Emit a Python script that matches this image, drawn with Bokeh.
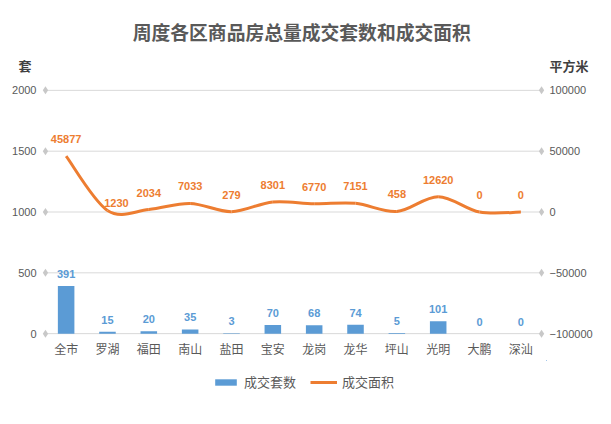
from bokeh.plotting import figure
from bokeh.layouts import column
from bokeh.models import (ColumnDataSource, Range1d, LinearAxis, FixedTicker, LabelSet,
                          Legend, LegendItem, BasicTickFormatter)
from bokeh.core.properties import value
from bokeh.embed import file_html
from bokeh.resources import INLINE

# ---- data ----
categories = ["全市", "罗湖", "福田", "南山", "盐田", "宝安", "龙岗", "龙华", "坪山", "光明", "大鹏", "深汕"]
units_sold = [391, 15, 20, 35, 3, 70, 68, 74, 5, 101, 0, 0]
area_sold = [45877, 1230, 2034, 7033, 279, 8301, 6770, 7151, 458, 12620, 0, 0]
left_ticks = [0, 500, 1000, 1500, 2000]
right_ticks = [-100000, -50000, 0, 50000, 100000]

title_text = "周度各区商品房总量成交套数和成交面积"
left_title = "套"
right_title = "平方米"
series_names = ["成交套数", "成交面积"]

# label nudges for the area labels (pixels), as placed in the original
area_label_dx = [0, 9, 0, 0, 0, 0, 0, 0, 0, 0, 0, 0]
area_label_dy = [13, 4, 13, 13, 13, 13, 13, 13, 13, 13, 13, 13]

BLUE = "#5B9BD5"
ORANGE = "#ED7D31"
GRAY = "#595959"
DARK = "#404040"
CJK = "Noto Sans CJK SC"
NUM = "Liberation Sans"

W = 595
HEAD_H = 80
MAIN_H = 280
FOOT_H = 408 - HEAD_H - MAIN_H
BL, BR = 40, 49

n = len(categories)
xs = [i + 0.5 for i in range(n)]
pad_x = 0.12
pad_y = 40


def bare_axis(ax, font, size, color, standoff, bold=False):
    ax.axis_line_color = None
    ax.major_tick_line_color = None
    ax.minor_tick_line_color = None
    ax.major_tick_out = 0
    ax.major_tick_in = 0
    ax.minor_tick_out = 0
    ax.major_label_standoff = standoff
    ax.major_label_text_font = font
    ax.major_label_text_font_size = size
    ax.major_label_text_color = color
    if bold:
        ax.major_label_text_font_style = "bold"


# ---- header: chart title and the two axis unit titles ----
head = figure(width=W, height=HEAD_H, output_backend="svg", toolbar_location=None,
              x_range=Range1d(-pad_x, n + pad_x), y_range=Range1d(0, HEAD_H),
              min_border_left=BL, min_border_right=BR, min_border_top=0, min_border_bottom=0)
head.grid.visible = False
head.xaxis.visible = False
head.outline_line_color = None
head.text(x=[6.2], y=[HEAD_H - 31], text=[title_text], text_align="center",
          text_baseline="middle", text_font=value(CJK), text_font_size="18.8px",
          text_font_style="bold", text_color=GRAY)
unit_row = HEAD_H - 65
head.yaxis.ticker = FixedTicker(ticks=[unit_row])
head.yaxis.major_label_overrides = {unit_row: left_title}
bare_axis(head.yaxis[0], CJK, "13px", DARK, 9, bold=True)
hr = LinearAxis(ticker=FixedTicker(ticks=[unit_row]))
hr.major_label_overrides = {unit_row: right_title}
bare_axis(hr, CJK, "13px", DARK, 3, bold=True)
head.add_layout(hr, "right")

# ---- main chart ----
p = figure(width=W, height=MAIN_H, output_backend="svg", toolbar_location=None,
           x_range=Range1d(-pad_x, n + pad_x), y_range=Range1d(-pad_y, 2000 + pad_y),
           min_border_left=BL, min_border_right=BR, min_border_top=5, min_border_bottom=22)
p.outline_line_color = None
p.xgrid.visible = False
p.ygrid.visible = False

scale = 100  # right-axis units per left-axis unit
p.extra_y_ranges = {"right": Range1d(-100000 - pad_y * scale, 100000 + pad_y * scale)}

# grid lines with diamond ends
gsrc = ColumnDataSource(dict(x0=[0] * len(left_ticks), x1=[n] * len(left_ticks), y=left_ticks))
p.segment(x0="x0", y0="y", x1="x1", y1="y", source=gsrc, line_color="#D9D9D9", line_width=1)
dsrc = ColumnDataSource(dict(x=[0] * len(left_ticks) + [n] * len(left_ticks), y=left_ticks + left_ticks))
p.scatter(x="x", y="y", source=dsrc, marker="diamond", size=8, fill_color="#C8C8C8", line_color=None)

# bars
bsrc = ColumnDataSource(dict(x=xs, top=units_sold, label=[str(v) for v in units_sold]))
p.vbar(x="x", top="top", width=0.4, source=bsrc, fill_color=BLUE, line_color=None)
p.add_layout(LabelSet(x="x", y="top", text="label", source=bsrc, text_align="center",
                      text_baseline="bottom", y_offset=8, text_color=BLUE, text_font=value(NUM),
                      text_font_size="11px", text_font_style="bold"))

# smooth line drawn as cubic bezier segments through the data points
P = list(zip(xs, area_sold))
bz = dict(x0=[], y0=[], x1=[], y1=[], cx0=[], cy0=[], cx1=[], cy1=[])
for i in range(n - 1):
    p0 = P[i - 1] if i > 0 else P[i]
    p1 = P[i]
    p2 = P[i + 1]
    p3 = P[i + 2] if i + 2 < n else P[i + 1]
    bz["x0"].append(p1[0]); bz["y0"].append(p1[1])
    bz["x1"].append(p2[0]); bz["y1"].append(p2[1])
    bz["cx0"].append(p1[0] + (p2[0] - p0[0]) / 6); bz["cy0"].append(p1[1] + (p2[1] - p0[1]) / 6)
    bz["cx1"].append(p2[0] - (p3[0] - p1[0]) / 6); bz["cy1"].append(p2[1] - (p3[1] - p1[1]) / 6)
p.bezier(x0="x0", y0="y0", x1="x1", y1="y1", cx0="cx0", cy0="cy0", cx1="cx1", cy1="cy1",
         source=ColumnDataSource(bz), line_color=ORANGE, line_width=3, y_range_name="right")

lsrc = ColumnDataSource(dict(x=xs, y=area_sold, label=[str(v) for v in area_sold],
                             dx=area_label_dx, dy=area_label_dy))
p.add_layout(LabelSet(x="x", y="y", text="label", source=lsrc, y_range_name="right",
                      x_offset="dx", y_offset="dy",
                      text_align="center", text_baseline="bottom",
                      text_color=ORANGE, text_font=value(NUM), text_font_size="11px",
                      text_font_style="bold"))

# axes
p.xaxis.ticker = FixedTicker(ticks=xs)
p.xaxis.major_label_overrides = {x: c for x, c in zip(xs, categories)}
bare_axis(p.xaxis[0], CJK, "12px", GRAY, 1)
p.yaxis.ticker = FixedTicker(ticks=left_ticks)
bare_axis(p.yaxis[0], NUM, "11px", GRAY, 4)
raxis = LinearAxis(y_range_name="right", ticker=FixedTicker(ticks=right_ticks),
                   formatter=BasicTickFormatter(use_scientific=False))
bare_axis(raxis, NUM, "11px", GRAY, 3)
p.add_layout(raxis, "right")

# ---- footer: legend (its swatch renderers sit outside the footer's visible range) ----
foot = figure(width=W, height=FOOT_H, output_backend="svg", toolbar_location=None,
              x_range=Range1d(-100, -99), y_range=Range1d(-100, -99),
              min_border_left=BL, min_border_right=BR, min_border_top=0, min_border_bottom=0)
foot.axis.visible = False
foot.grid.visible = False
foot.outline_line_color = None
leg_bar = foot.vbar(x=xs, top=units_sold, width=0.4, fill_color=BLUE, line_color=None)
leg_line = foot.line(x=xs, y=area_sold, line_color=ORANGE, line_width=3)
legend = Legend(items=[LegendItem(label=series_names[0], renderers=[leg_bar]),
                       LegendItem(label=series_names[1], renderers=[leg_line])],
                orientation="horizontal", location=(168, 13),
                glyph_width=27, glyph_height=8, label_standoff=5, spacing=14,
                padding=4, margin=0, border_line_alpha=0, background_fill_alpha=0,
                label_text_font=CJK, label_text_font_size="13px", label_text_color=GRAY)
foot.add_layout(legend)

layout = column(head, p, foot, spacing=0)
open("out.html", "w").write(file_html(layout, INLINE))
